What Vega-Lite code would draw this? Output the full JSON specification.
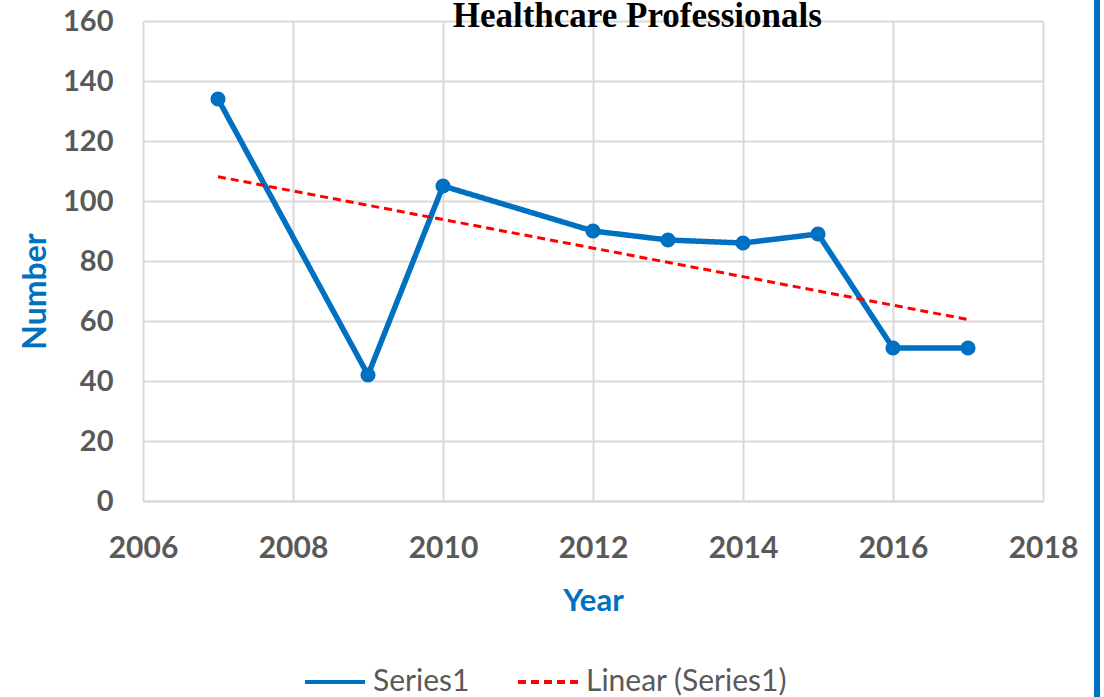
{
  "$schema": "https://vega.github.io/schema/vega-lite/v6.json",
  "width": 900,
  "height": 480,
  "autosize": {"type": "none"},
  "padding": {"left": 143, "top": 21, "right": 61, "bottom": 196},
  "background": "white",
  "config": {"view": {"stroke": null}, "font": "Lato"},
  "datasets": {
    "main": [
      {"year": 2007, "value": 134, "series": "Series1"},
      {"year": 2009, "value": 42, "series": "Series1"},
      {"year": 2010, "value": 105, "series": "Series1"},
      {"year": 2012, "value": 90, "series": "Series1"},
      {"year": 2013, "value": 87, "series": "Series1"},
      {"year": 2014, "value": 86, "series": "Series1"},
      {"year": 2015, "value": 89, "series": "Series1"},
      {"year": 2016, "value": 51, "series": "Series1"},
      {"year": 2017, "value": 51, "series": "Series1"}
    ],
    "trend": [
      {"year": 2007, "value": 108.1, "series": "Linear (Series1)"},
      {"year": 2017, "value": 60.5, "series": "Linear (Series1)"}
    ],
    "border": [
      {"x": 2018.72, "ytop": 167, "ybottom": -66}
    ],
    "titles": [
      {"label": "Healthcare Professionals"}
    ]
  },
  "layer": [
    {
      "data": {"name": "main"},
      "mark": {"type": "line", "strokeWidth": 5.5},
      "encoding": {
        "x": {
          "field": "year", "type": "quantitative",
          "scale": {"domain": [2006, 2018], "nice": false, "zero": false},
          "axis": {
            "values": [2006, 2008, 2010, 2012, 2014, 2016, 2018],
            "format": "d",
            "title": "Year",
            "titleColor": "#0070C0", "titleFontSize": 31, "titleFontWeight": "bold", "titleFont": "Lato",
            "titlePadding": 23,
            "labelFontSize": 30, "labelFontWeight": "bold", "labelColor": "#595959", "labelFont": "Lato",
            "labelPadding": 32,
            "labelFlush": false,
            "labelOverlap": false,
            "ticks": false,
            "domainColor": "#d9d9d9", "domainWidth": 2,
            "grid": true, "gridColor": "#d9d9d9", "gridWidth": 2
          }
        },
        "y": {
          "field": "value", "type": "quantitative",
          "scale": {"domain": [0, 160], "nice": false},
          "axis": {
            "values": [0, 20, 40, 60, 80, 100, 120, 140, 160],
            "title": "Number",
            "titleColor": "#0070C0", "titleFontSize": 32, "titleFontWeight": "bold", "titleFont": "Lato",
            "titleX": -108, "titleY": 270, "titleAngle": -90, "titleAlign": "center", "titleBaseline": "middle",
            "labelFontSize": 29, "labelFontWeight": "bold", "labelColor": "#595959", "labelFont": "Lato",
            "labelPadding": 30,
            "labelFlush": false,
            "labelOverlap": false,
            "ticks": false,
            "domain": false,
            "grid": true, "gridColor": "#d9d9d9", "gridWidth": 2
          }
        },
        "color": {
          "field": "series", "type": "nominal",
          "scale": {"domain": ["Series1", "Linear (Series1)"], "range": ["#0070C0", "#FF0000"]},
          "legend": {
            "orient": "none",
            "legendX": 160,
            "legendY": 629,
            "direction": "horizontal",
            "title": null,
            "symbolType": "stroke",
            "symbolSize": 3600,
            "symbolStrokeWidth": 4,
            "labelFontSize": 30,
            "labelColor": "#595959",
            "labelFont": "Lato",
            "labelOffset": 6,
            "labelLimit": 400,
            "columnPadding": 40
          }
        },
        "strokeDash": {
          "field": "series", "type": "nominal",
          "scale": {"domain": ["Series1", "Linear (Series1)"], "range": [[1, 0], [8, 5]]},
          "legend": null
        }
      }
    },
    {
      "data": {"name": "main"},
      "mark": {"type": "point", "filled": true, "size": 230, "color": "#0070C0", "opacity": 1},
      "encoding": {
        "x": {"field": "year", "type": "quantitative"},
        "y": {"field": "value", "type": "quantitative"}
      }
    },
    {
      "data": {"name": "trend"},
      "mark": {"type": "line", "strokeWidth": 3},
      "encoding": {
        "x": {"field": "year", "type": "quantitative"},
        "y": {"field": "value", "type": "quantitative"},
        "color": {"field": "series", "type": "nominal"},
        "strokeDash": {"field": "series", "type": "nominal"}
      }
    },
    {
      "data": {"name": "border"},
      "mark": {"type": "rule", "strokeWidth": 6, "color": "#0070C0"},
      "encoding": {
        "x": {"field": "x", "type": "quantitative"},
        "y": {"field": "ytop", "type": "quantitative"},
        "y2": {"field": "ybottom"}
      }
    },
    {
      "data": {"name": "titles"},
      "mark": {
        "type": "text",
        "font": "Liberation Serif",
        "fontSize": 35,
        "fontWeight": "bold",
        "color": "black",
        "align": "center",
        "baseline": "alphabetic"
      },
      "encoding": {
        "x": {"datum": 2012.59, "type": "quantitative"},
        "y": {"datum": 158, "type": "quantitative"},
        "text": {"field": "label", "type": "nominal"}
      }
    }
  ]
}
